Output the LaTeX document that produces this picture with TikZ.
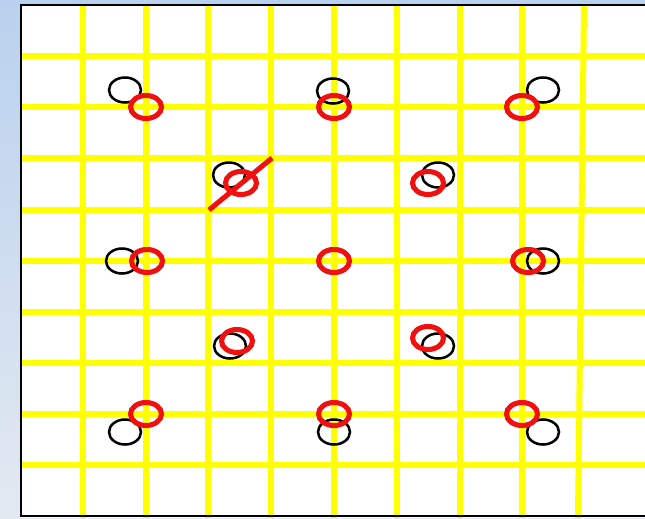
\documentclass[tikz,border=0pt]{standalone}
\usepackage{xcolor}
\usetikzlibrary{calc}
\definecolor{gridyellow}{HTML}{FFFF00}
\definecolor{slideblue}{HTML}{B9D1EE}
\definecolor{slidepale}{HTML}{E3E9F1}
\definecolor{markred}{HTML}{F01010}

\begin{document}
\begin{tikzpicture}[
    x=0.75pt, y=-0.75pt,
    gridline/.style={draw=gridyellow, line width=4.5pt},
    shiftmark/.style={draw=black, line width=1.9pt},
    truemark/.style={draw=markred, line width=3.8pt},
]
  % slide background and white panel
  \useasboundingbox (0,0) rectangle (645,518);
  \shade[top color=slideblue, bottom color=slidepale] (0,0) rectangle (645,518);
  \fill[white] (20,4) rectangle (645,518);

  % yellow grid
  \foreach \gx in {83,146,208,271,334,397,460,522} {
    \draw[gridline] (\gx,5) -- (\gx,518);
  }
  \draw[gridline] (584,5) -- (578,518);
  \foreach \gy in {56,107,158,210,261,312,363,414,465} {
    \draw[gridline] (20,\gy) -- (645,\gy);
  }

  % panel border
  \draw[black, line width=2.2pt] (645,5) -- (21,5) -- (21,516) -- (645,516);

  % black circles (shifted positions)
  \foreach \bx/\by in {125/90, 333/91, 543/90, 229/175, 438/175,
                       122/261, 334/261, 543/261, 230/346, 438/346,
                       125/432, 334/432, 543/432} {
    \draw[shiftmark] (\bx,\by) ellipse [x radius=16, y radius=12.5];
  }

  % red circles (grid positions)
  \foreach \rx/\ry in {146/107, 334/107, 522/107, 241/183, 428/183,
                       147/261, 334/261, 528/261, 237/341, 428/338,
                       146/414, 334/414, 522/414} {
    \draw[truemark] (\rx,\ry) ellipse [x radius=15.5, y radius=11.5];
  }

  % strike-through
  \coordinate (slashlo) at (209,210);
  \coordinate (slashhi) at (272,158);
  \draw[truemark] (slashlo) -- (slashhi);
\end{tikzpicture}
\end{document}
